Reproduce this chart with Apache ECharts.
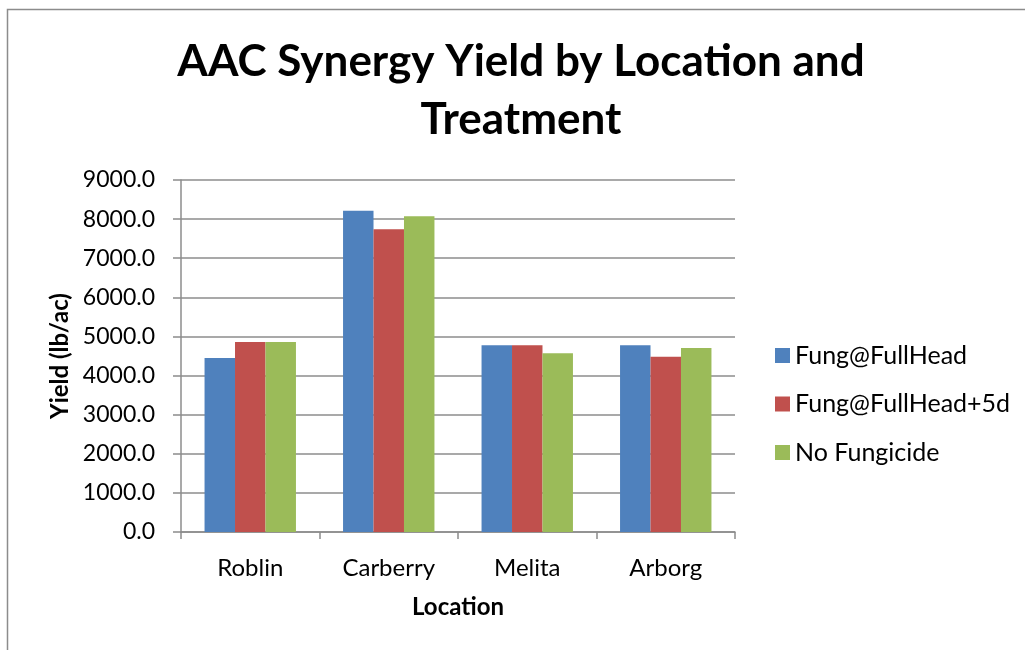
<!DOCTYPE html>
<html>
<head>
<meta charset="utf-8">
<script src="https://cdn.jsdelivr.net/npm/echarts@6/dist/echarts.min.js"></script>
<style>
html, body { margin: 0; padding: 0; background: #fff; }
#chart { width: 1025px; height: 650px; }
</style>
</head>
<body>
<div id="chart"></div>
<script>
// values
const locations = ['Roblin', 'Carberry', 'Melita', 'Arborg'];
const fungFullHead = [4450, 8215, 4775, 4775];
const fungFullHead5d = [4860, 7740, 4775, 4480];
const noFungicide = [4860, 8075, 4570, 4705];
const seriesNames = ['Fung@FullHead', 'Fung@FullHead+5d', 'No Fungicide'];
const colors = ['#4F81BD', '#C0504D', '#9BBB59'];

const font = 'Lato';
const chart = echarts.init(document.getElementById('chart'));

chart.setOption({
	animation: false,
	color: colors,
	textStyle: { fontFamily: font },
	graphic: [{
		type: 'rect',
		shape: { x: 7.5, y: 9.5, width: 1030, height: 660 },
		style: { fill: 'none', stroke: '#8c8c8c', lineWidth: 1.5 },
		silent: true
	}, {
		type: 'text',
		x: 521,
		y: 91,
		style: {
			text: 'AAC Synergy Yield by Location and\nTreatment',
			font: 'bold 44px ' + font,
			fill: '#000',
			align: 'center',
			verticalAlign: 'middle',
			lineHeight: 58
		}
	}, {
		// y axis title, placed by hand so it sits next to the labels like the original
		type: 'text',
		x: 60,
		y: 356,
		rotation: Math.PI / 2,
		style: {
			text: 'Yield (lb/ac)',
			font: 'bold 24px ' + font,
			fill: '#000',
			align: 'center',
			verticalAlign: 'middle'
		}
	}],
	legend: {
		orient: 'vertical',
		left: 775,
		top: 343,
		padding: 0,
		itemWidth: 15,
		itemHeight: 15,
		itemGap: 23.5,
		icon: 'rect',
		textStyle: { fontSize: 25, color: '#000', lineHeight: 20, fontFamily: font },
		data: seriesNames
	},
	grid: { left: 181, right: 290, top: 180, bottom: 118 },
	xAxis: {
		type: 'category',
		data: locations,
		name: 'Location',
		nameLocation: 'middle',
		nameGap: 63,
		nameTextStyle: { fontSize: 24, fontWeight: 'bold', color: '#000' },
		axisLine: { lineStyle: { color: '#8c8c8c', width: 1.5 } },
		axisTick: { show: true, length: 7, lineStyle: { color: '#8c8c8c', width: 1.5 } },
		axisLabel: { fontSize: 24, color: '#000', margin: 24 }
	},
	yAxis: {
		type: 'value',
		min: 0,
		max: 9000,
		interval: 1000,
		axisLine: { show: true, lineStyle: { color: '#8c8c8c', width: 1.5 } },
		axisTick: { show: true, length: 8, lineStyle: { color: '#8c8c8c', width: 1.5 } },
		splitLine: { lineStyle: { color: '#8c8c8c', width: 1.5 } },
		axisLabel: {
			fontSize: 23,
			color: '#000',
			margin: 26,
			formatter: (v) => v.toFixed(1)
		}
	},
	series: [{
		name: seriesNames[0],
		type: 'bar',
		barGap: '0%',
		barCategoryGap: '34%',
		data: fungFullHead
	}, {
		name: seriesNames[1],
		type: 'bar',
		barGap: '0%',
		barCategoryGap: '34%',
		data: fungFullHead5d
	}, {
		name: seriesNames[2],
		type: 'bar',
		barGap: '0%',
		barCategoryGap: '34%',
		data: noFungicide
	}]
});
</script>
</body>
</html>
